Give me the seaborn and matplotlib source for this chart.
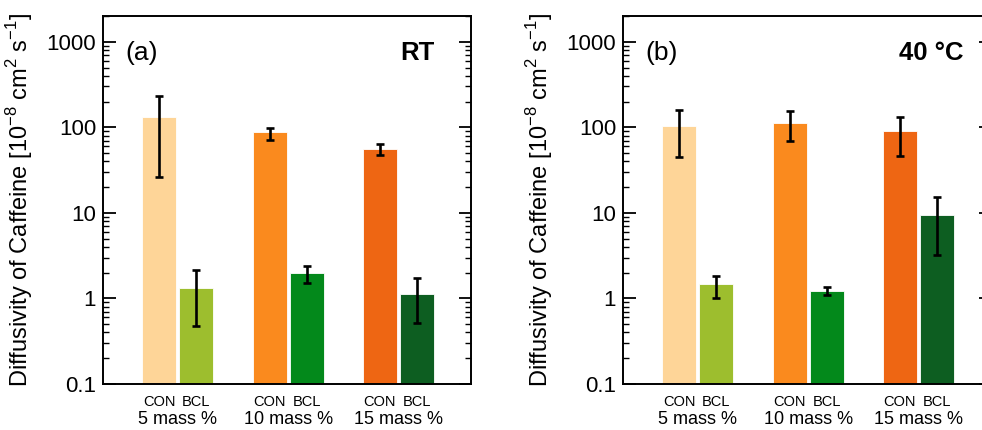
import matplotlib
matplotlib.use("Agg")
import matplotlib.pyplot as plt
import seaborn as sns
import pandas as pd
import numpy as np
from matplotlib.ticker import FixedLocator, LogLocator, NullFormatter

groups = ["5 mass %", "10 mass %", "15 mass %"]
types = ["CON", "BCL"]

# RT panel
rt_values = [131, 1.32, 88, 1.98, 56, 1.13]
rt_err_hi = [232, 2.13, 98, 2.37, 63, 1.75]
rt_err_lo = [26, 0.47, 72, 1.51, 48, 0.51]

# 40 C panel
t40_values = [103, 1.46, 113, 1.23, 90, 9.4]
t40_err_hi = [158, 1.85, 156, 1.35, 132, 15.3]
t40_err_lo = [45, 1.0, 69, 1.09, 46, 3.2]

bar_colors = ["#FED598", "#9DBE2E", "#FA8A1E", "#03891B", "#EE6613", "#0D5E21"]

panel_labels = ["(a)", "(b)"]
panel_titles = ["RT", "40 °C"]

sns.set_style("ticks")
plt.rcParams["font.family"] = ["Liberation Sans", "DejaVu Sans"]
plt.rcParams["mathtext.fontset"] = "custom"
plt.rcParams["mathtext.rm"] = "Liberation Sans"
plt.rcParams["text.color"] = "black"
plt.rcParams["axes.labelcolor"] = "black"
plt.rcParams["xtick.color"] = "black"
plt.rcParams["ytick.color"] = "black"


def make_df(values, hi, lo):
    rows = []
    i = 0
    for g in groups:
        for t in types:
            rows.append({"group": g, "type": t, "value": values[i],
                         "hi": hi[i], "lo": lo[i]})
            i += 1
    return pd.DataFrame(rows)


fig = plt.figure(figsize=(9.82, 4.30), dpi=100)
W, H = 982, 430
axes = [fig.add_axes([103 / W, 46 / H, 368 / W, 368 / H]),
        fig.add_axes([623 / W, 46 / H, 368 / W, 368 / H])]

data = [make_df(rt_values, rt_err_hi, rt_err_lo),
        make_df(t40_values, t40_err_hi, t40_err_lo)]

for k, ax in enumerate(axes):
    df = data[k]
    sns.barplot(data=df, x="group", y="value", hue="type", order=groups,
                hue_order=types, width=0.672, gap=0.08, errorbar=None,
                legend=False, ax=ax, log_scale=(False, True))
    # recolor bars one by one, and put error bars on their centers
    patches = sorted(ax.patches, key=lambda p: p.get_x())
    centers = []
    for p, c in zip(patches, bar_colors):
        p.set_facecolor(c)
        p.set_edgecolor("white")
        p.set_linewidth(0.6)
        centers.append(p.get_x() + p.get_width() / 2)
    order = [(g, t) for g in groups for t in types]
    d = df.set_index(["group", "type"]).loc[order]
    yerr = [d["value"] - d["lo"], d["hi"] - d["value"]]
    ax.errorbar(centers, d["value"], yerr=yerr, fmt="none", ecolor="black",
                elinewidth=1.9, capsize=3.2, capthick=1.9, zorder=5)

    ax.set_yscale("log")
    ax.set_ylim(0.1, 2000)
    ax.set_xlim(-0.68, 2.66)
    ax.yaxis.set_major_locator(FixedLocator([0.1, 1, 10, 100, 1000]))
    ax.set_yticklabels(["0.1", "1", "10", "100", "1000"])
    ax.yaxis.set_minor_locator(LogLocator(base=10, subs=np.arange(2, 10)))
    ax.yaxis.set_minor_formatter(NullFormatter())
    ax.tick_params(axis="y", which="major", direction="in", length=9,
                   width=1.3, labelsize=16, right=True, pad=5)
    ax.tick_params(axis="y", which="minor", direction="in", length=4.5,
                   width=1.0, right=True)

    ax.set_xticks(centers)
    ax.set_xticklabels(types * 3, fontsize=10.5)
    ax.tick_params(axis="x", length=0, pad=8)
    for i, g in enumerate(groups):
        ax.text(i, -35 / 368, g, transform=ax.get_xaxis_transform(),
                ha="center", va="center", fontsize=13)

    for s in ax.spines.values():
        s.set_visible(True)
        s.set_color("black")
        s.set_linewidth(1.4)

    ax.set_xlabel("")
    ax.set_ylabel(r"Diffusivity of Caffeine [10$^{-8}$ cm$^{2}$ s$^{-1}$]",
                  fontsize=17)
    ax.yaxis.set_label_coords(-0.185, 0.5)

    ax.text(0.06, 0.9, panel_labels[k], transform=ax.transAxes,
            ha="left", va="center", fontsize=19)
    tx = 0.9 if k == 0 else 0.924
    ax.text(tx, 0.9, panel_titles[k], transform=ax.transAxes,
            ha="right", va="center", fontsize=18.5, fontweight="bold")

fig.savefig("out.png", dpi=100)
